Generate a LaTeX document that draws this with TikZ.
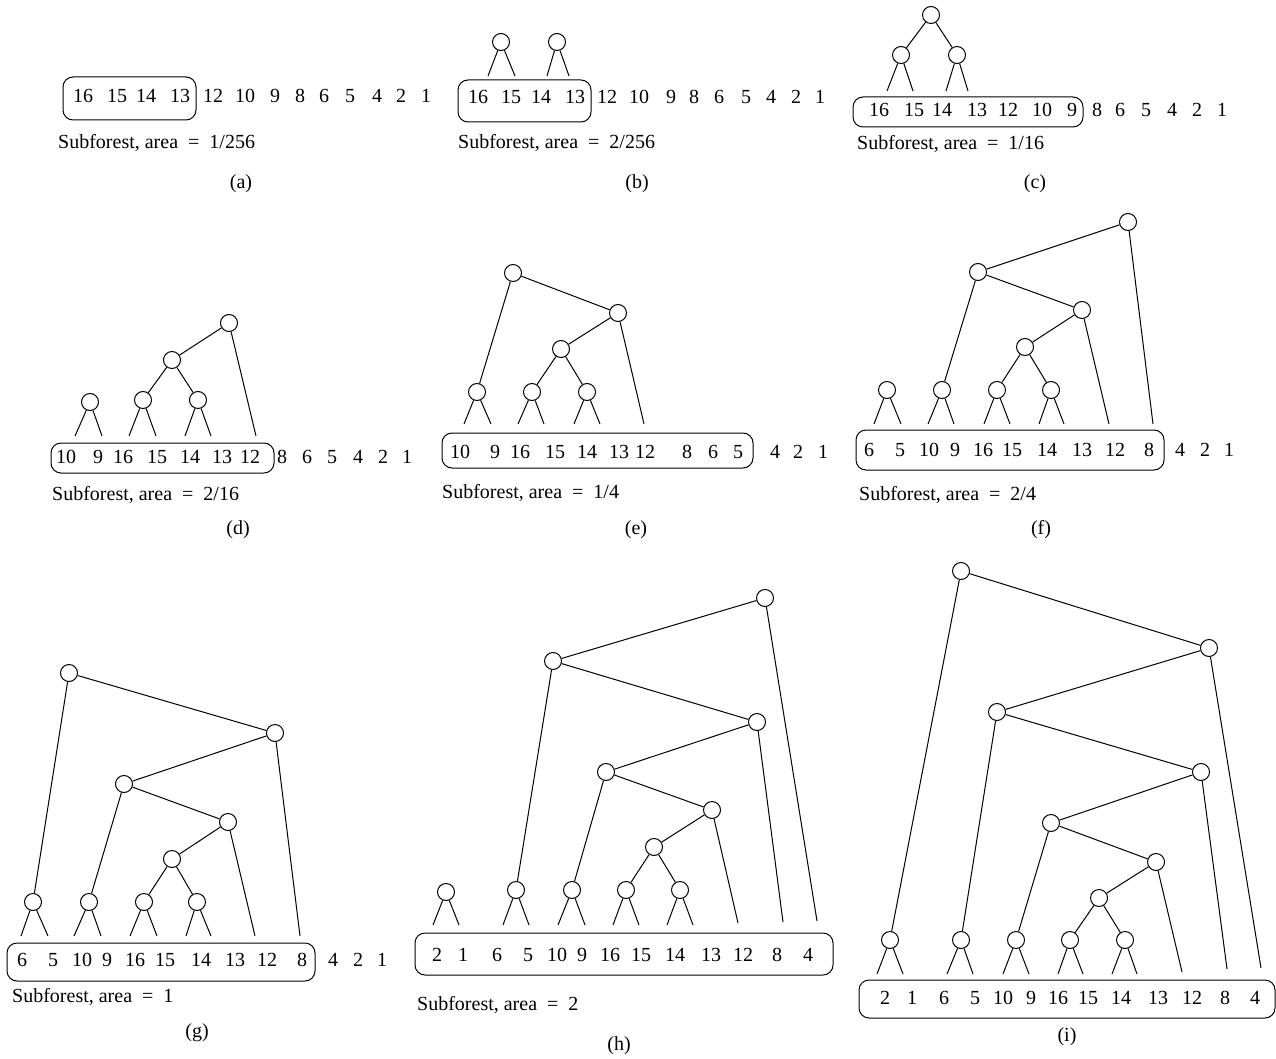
\documentclass[tikz,border=0pt]{standalone}
\usepackage{fontspec}
\setmainfont{Liberation Serif}
\usetikzlibrary{positioning}
\newcommand{\figfont}{\fontsize{20}{24}\selectfont}
\newcommand{\areaeq}{\enspace=\enspace}
% two short legs hanging below a leaf vertex
\newcommand{\twolegs}[4]{%
    \coordinate (#1-l) at (#2,#4);
    \coordinate (#1-r) at (#3,#4);
    \draw[edge] (#1) -- (#1-l);
    \draw[edge] (#1) -- (#1-r);
}

\begin{document}
\begin{tikzpicture}[
    x=1pt, y=-1pt,
    vtx/.style={draw, circle, minimum size=17pt, inner sep=0pt, fill=white, line width=1pt},
    edge/.style={line width=1pt},
    rowbox/.style={draw, rounded corners=10pt, line width=1pt},
    num/.style={inner sep=0pt, font=\figfont},
    capt/.style={inner sep=0pt, anchor=west, font=\figfont},
    tag/.style={inner sep=0pt, font=\figfont}
]
    \useasboundingbox (0,0) rectangle (1276,1059);

    % (a)
    \draw[rowbox] (63,77) rectangle (196,120);
    \foreach \x/\t [count=\i] in {83/16,117/15,146/14,180/13,213/12,245/10,275/9,300/8,324/6,350/5,377/4,401/2,426/1}
        \node[num] (a\i) at (\x,96) {\t};
    \node[capt] (capa) at (58,143) {Subforest, area\areaeq 1/256};
    \node[tag] (taga) at (241,184) {(a)};

    % (b)
    \draw[rowbox] (458,80) rectangle (591,122);
    \foreach \x/\t [count=\i] in {478/16,511/15,541/14,575/13,607/12,639/10,671/9,694/8,719/6,746/5,771/4,796/2,820/1}
        \node[num] (b\i) at (\x,97) {\t};
    \node[vtx] (b1v) at (501,42) {};
    \node[vtx] (b2v) at (557,42) {};
    \twolegs{b1v}{488}{515}{76}
    \twolegs{b2v}{547}{569}{76}
    \node[capt] (capb) at (458,143) {Subforest, area\areaeq 2/256};
    \node[tag] (tagb) at (637,184) {(b)};

    % (c)
    \draw[rowbox] (853,97) rectangle (1083,127);
    \foreach \x/\t [count=\i] in {879/16,914/15,942/14,977/13,1008/12,1042/10,1072/9,1097/8,1120/6,1146/5,1172/4,1197/2,1222/1}
        \node[num] (c\i) at (\x,110) {\t};
    \node[vtx] (c0v) at (931,15) {};
    \node[vtx] (c1v) at (901,55) {};
    \node[vtx] (c2v) at (957,55) {};
    \draw[edge] (c0v) -- (c1v);
    \draw[edge] (c0v) -- (c2v);
    \twolegs{c1v}{887}{913}{91}
    \twolegs{c2v}{946}{968}{91}
    \node[capt] (capc) at (857,144) {Subforest, area\areaeq 1/16};
    \node[tag] (tagc) at (1035,184) {(c)};

    % (d)
    \draw[rowbox] (51,443) rectangle (274,473);
    \foreach \x/\t [count=\i] in {66/10,98/9,123/16,157/15,190/14,222/13,250/12,282/8,307/6,332/5,358/4,383/2,407/1}
        \node[num] (d\i) at (\x,457) {\t};
    \node[vtx] (d1v) at (90,402) {};
    \node[vtx] (d2v) at (143,400) {};
    \node[vtx] (d3v) at (198,400) {};
    \node[vtx] (dmv) at (172,360) {};
    \node[vtx] (drv) at (229,323) {};
    \coordinate (dre) at (256,436);
    \draw[edge] (drv) -- (dmv);
    \draw[edge] (dmv) -- (d2v);
    \draw[edge] (dmv) -- (d3v);
    \draw[edge] (drv) -- (dre);
    \twolegs{d1v}{75}{102}{436}
    \twolegs{d2v}{129}{156}{436}
    \twolegs{d3v}{185}{211}{436}
    \node[capt] (capd) at (52,495) {Subforest, area\areaeq 2/16};
    \node[tag] (tagd) at (238,530) {(d)};

    % (e)
    \draw[rowbox] (442,433) rectangle (753,468);
    \foreach \x/\t [count=\i] in {460/10,495/9,520/16,555/15,587/14,619/13,645/12,687/8,713/6,738/5,775/4,798/2,823/1}
        \node[num] (e\i) at (\x,452) {\t};
    \node[vtx] (erv) at (513,273) {};
    \node[vtx] (ebv) at (618,313) {};
    \node[vtx] (emv) at (561,349) {};
    \node[vtx] (e1v) at (477,392) {};
    \node[vtx] (e2v) at (532,392) {};
    \node[vtx] (e3v) at (587,392) {};
    \coordinate (ebe) at (644,424);
    \draw[edge] (erv) -- (e1v);
    \draw[edge] (erv) -- (ebv);
    \draw[edge] (ebv) -- (emv);
    \draw[edge] (emv) -- (e2v);
    \draw[edge] (emv) -- (e3v);
    \draw[edge] (ebv) -- (ebe);
    \twolegs{e1v}{464}{491}{424}
    \twolegs{e2v}{518}{544}{424}
    \twolegs{e3v}{574}{600}{424}
    \node[capt] (cape) at (442,493) {Subforest, area\areaeq 1/4};
    \node[tag] (tage) at (636,530) {(e)};

    % (f)
    \draw[rowbox] (856,430) rectangle (1164,470);
    \foreach \x/\t [count=\i] in {869/6,900/5,929/10,955/9,983/16,1012/15,1047/14,1082/13,1115/12,1149/8,1180/4,1205/2,1229/1}
        \node[num] (f\i) at (\x,450) {\t};
    \node[vtx] (frv) at (1128,222) {};
    \node[vtx] (fav) at (978,272) {};
    \node[vtx] (fbv) at (1082,310) {};
    \node[vtx] (fcv) at (1025,347) {};
    \node[vtx] (f1v) at (887,390) {};
    \node[vtx] (f2v) at (942,390) {};
    \node[vtx] (f3v) at (997,390) {};
    \node[vtx] (f4v) at (1051,390) {};
    \coordinate (fbe) at (1109,424);
    \coordinate (fre) at (1153,424);
    \draw[edge] (frv) -- (fav);
    \draw[edge] (fav) -- (f2v);
    \draw[edge] (fav) -- (fbv);
    \draw[edge] (fbv) -- (fcv);
    \draw[edge] (fcv) -- (f3v);
    \draw[edge] (fcv) -- (f4v);
    \draw[edge] (fbv) -- (fbe);
    \draw[edge] (frv) -- (fre);
    \twolegs{f1v}{874}{901}{424}
    \twolegs{f2v}{928}{954}{424}
    \twolegs{f3v}{984}{1010}{424}
    \twolegs{f4v}{1039}{1064}{424}
    \node[capt] (capf) at (859,495) {Subforest, area\areaeq 2/4};
    \node[tag] (tagf) at (1041,530) {(f)};

    % (g)
    \draw[rowbox] (7,943) rectangle (315,981);
    \foreach \x/\t [count=\i] in {22/6,53/5,82/10,107/9,135/16,165/15,201/14,235/13,267/12,302/8,333/4,358/2,382/1}
        \node[num] (g\i) at (\x,960) {\t};
    \node[vtx] (grv) at (69,673) {};
    \node[vtx] (gsv) at (275,733) {};
    \node[vtx] (gav) at (124,784) {};
    \node[vtx] (gbv) at (228,822) {};
    \node[vtx] (gcv) at (172,859) {};
    \node[vtx] (g1v) at (33,902) {};
    \node[vtx] (g2v) at (89,902) {};
    \node[vtx] (g3v) at (144,902) {};
    \node[vtx] (g4v) at (197,902) {};
    \coordinate (gbe) at (255,936);
    \coordinate (gse) at (300,936);
    \draw[edge] (grv) -- (g1v);
    \draw[edge] (grv) -- (gsv);
    \draw[edge] (gsv) -- (gav);
    \draw[edge] (gav) -- (g2v);
    \draw[edge] (gav) -- (gbv);
    \draw[edge] (gbv) -- (gcv);
    \draw[edge] (gcv) -- (g3v);
    \draw[edge] (gcv) -- (g4v);
    \draw[edge] (gbv) -- (gbe);
    \draw[edge] (gsv) -- (gse);
    \twolegs{g1v}{21}{48}{936}
    \twolegs{g2v}{74}{101}{936}
    \twolegs{g3v}{130}{157}{936}
    \twolegs{g4v}{186}{211}{936}
    \node[capt] (capg) at (12,997) {Subforest, area\areaeq 1};
    \node[tag] (tagg) at (197,1033) {(g)};

    % (h)
    \draw[rowbox] (415,933) rectangle (833,975);
    \foreach \x/\t [count=\i] in {437/2,463/1,497/6,528/5,557/10,582/9,610/16,641/15,675/14,711/13,743/12,777/8,808/4}
        \node[num] (h\i) at (\x,955) {\t};
    \node[vtx] (hrv) at (765,598) {};
    \node[vtx] (hav) at (553,661) {};
    \node[vtx] (hbv) at (757,722) {};
    \node[vtx] (hcv) at (606,772) {};
    \node[vtx] (hdv) at (712,810) {};
    \node[vtx] (hev) at (654,847) {};
    \node[vtx] (h1v) at (446,892) {};
    \node[vtx] (h2v) at (516,890) {};
    \node[vtx] (h3v) at (572,890) {};
    \node[vtx] (h4v) at (626,890) {};
    \node[vtx] (h5v) at (680,890) {};
    \coordinate (hde) at (738,923);
    \coordinate (hbe) at (783,922);
    \coordinate (hre) at (817,921);
    \draw[edge] (hrv) -- (hav);
    \draw[edge] (hav) -- (h2v);
    \draw[edge] (hav) -- (hbv);
    \draw[edge] (hbv) -- (hcv);
    \draw[edge] (hcv) -- (h3v);
    \draw[edge] (hcv) -- (hdv);
    \draw[edge] (hdv) -- (hev);
    \draw[edge] (hev) -- (h4v);
    \draw[edge] (hev) -- (h5v);
    \draw[edge] (hdv) -- (hde);
    \draw[edge] (hbv) -- (hbe);
    \draw[edge] (hrv) -- (hre);
    \twolegs{h1v}{433}{459}{925}
    \twolegs{h2v}{503}{529}{925}
    \twolegs{h3v}{558}{585}{925}
    \twolegs{h4v}{613}{639}{925}
    \twolegs{h5v}{667}{693}{925}
    \node[capt] (caph) at (417,1005) {Subforest, area\areaeq 2};
    \node[tag] (tagh) at (619,1046) {(h)};

    % (i)
    \draw[rowbox] (859,980) rectangle (1275,1018);
    \foreach \x/\t [count=\i] in {885/2,912/1,944/6,975/5,1003/10,1031/9,1058/16,1088/15,1121/14,1158/13,1192/12,1225/8,1255/4}
        \node[num] (i\i) at (\x,998) {\t};
    \node[vtx] (irv) at (961,571) {};
    \node[vtx] (isv) at (1209,648) {};
    \node[vtx] (iav) at (997,712) {};
    \node[vtx] (ibv) at (1201,772) {};
    \node[vtx] (icv) at (1051,823) {};
    \node[vtx] (idv) at (1156,862) {};
    \node[vtx] (iev) at (1099,898) {};
    \node[vtx] (i1v) at (890,940) {};
    \node[vtx] (i2v) at (961,940) {};
    \node[vtx] (i3v) at (1016,940) {};
    \node[vtx] (i4v) at (1070,940) {};
    \node[vtx] (i5v) at (1125,940) {};
    \coordinate (ide) at (1182,972);
    \coordinate (ibe) at (1227,969);
    \coordinate (ise) at (1261,968);
    \draw[edge] (irv) -- (i1v);
    \draw[edge] (irv) -- (isv);
    \draw[edge] (isv) -- (iav);
    \draw[edge] (iav) -- (i2v);
    \draw[edge] (iav) -- (ibv);
    \draw[edge] (ibv) -- (icv);
    \draw[edge] (icv) -- (i3v);
    \draw[edge] (icv) -- (idv);
    \draw[edge] (idv) -- (iev);
    \draw[edge] (iev) -- (i4v);
    \draw[edge] (iev) -- (i5v);
    \draw[edge] (idv) -- (ide);
    \draw[edge] (ibv) -- (ibe);
    \draw[edge] (isv) -- (ise);
    \twolegs{i1v}{877}{903}{974}
    \twolegs{i2v}{947}{973}{974}
    \twolegs{i3v}{1003}{1029}{974}
    \twolegs{i4v}{1058}{1083}{974}
    \twolegs{i5v}{1112}{1137}{974}
    \node[tag] (tagi) at (1067,1037) {(i)};
\end{tikzpicture}
\end{document}
